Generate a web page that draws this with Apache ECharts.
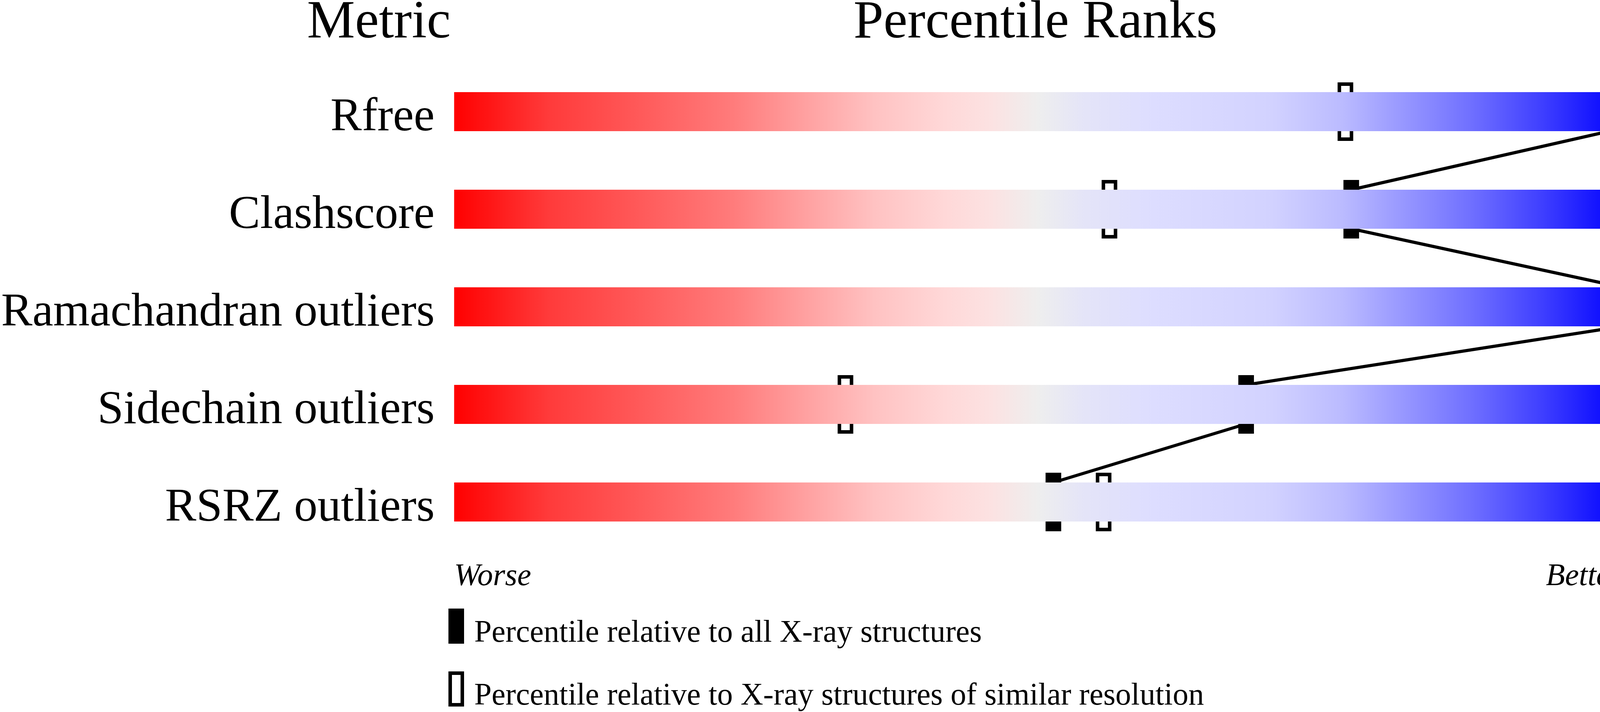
<!DOCTYPE html>
<html>
<head>
<meta charset="utf-8">
<script src="https://cdn.jsdelivr.net/npm/echarts@6/dist/echarts.min.js"></script>
<style>
html,body{margin:0;padding:0;background:#fff;}
#chart{width:4485px;height:1824px;}
</style>
</head>
<body>
<div id="chart"></div>
<script>
// ---- data ----
const metrics = ['Rfree', 'Clashscore', 'Ramachandran outliers', 'Sidechain outliers', 'RSRZ outliers'];
const valueLabels = ['0.154', '3', '0', '1.0%', '3.1%'];
const pctAll = [98.9, 76.8, 100, 67.8, 51.3];       // percentile vs all X-ray structures
const pctSimilar = [76.3, 56.1, 100, 33.5, 55.6];   // percentile vs similar resolution
const scaleMin = 0, scaleMax = 100;
const endLabels = ['Worse', 'Better'];
const headers = ['Metric', 'Percentile Ranks', 'Value'];
const legendNames = ['Percentile relative to all X-ray structures',
                     'Percentile relative to X-ray structures of similar resolution'];

const FONT = 'Liberation Serif';
const chart = echarts.init(document.getElementById('chart'));

const gradient = new echarts.graphic.LinearGradient(0, 0, 1, 0, [
  {offset: 0.00, color: '#FF0000'},
  {offset: 0.08, color: '#FF3A3A'},
  {offset: 0.16, color: '#FF5A5A'},
  {offset: 0.24, color: '#FF7C7C'},
  {offset: 0.30, color: '#FFA0A0'},
  {offset: 0.36, color: '#FFC2C2'},
  {offset: 0.42, color: '#FFD8D8'},
  {offset: 0.46, color: '#FCE2E2'},
  {offset: 0.50, color: '#EEEEEE'},
  {offset: 0.54, color: '#E4E4F8'},
  {offset: 0.60, color: '#DDDDFF'},
  {offset: 0.70, color: '#D2D2FF'},
  {offset: 0.76, color: '#BBBBFF'},
  {offset: 0.81, color: '#9999FF'},
  {offset: 0.87, color: '#7070FF'},
  {offset: 0.93, color: '#4040FF'},
  {offset: 1.00, color: '#0000FF'}
]);

const openIcon = 'path://M0,0H40V90H0Z M9,9V81H31V9Z';

const option = {
  animation: false,
  backgroundColor: '#ffffff',
  title: [
    {text: headers[0], left: 786, top: 10, padding: 0,
     textStyle: {fontFamily: FONT, fontSize: 138, fontWeight: 'normal', color: '#000', lineHeight: 100}},
    {text: headers[1], left: 2185, top: 10, padding: 0,
     textStyle: {fontFamily: FONT, fontSize: 138, fontWeight: 'normal', color: '#000', lineHeight: 100}},
    {text: headers[2], right: 5, top: 10, padding: 0,
     textStyle: {fontFamily: FONT, fontSize: 138, fontWeight: 'normal', color: '#000', lineHeight: 100}}
  ],
  legend: {
    orient: 'vertical',
    left: 1148, top: 1559, height: 400,
    padding: 0,
    itemWidth: 40, itemHeight: 90, itemGap: 57,
    selectedMode: false,
    data: [{name: legendNames[0], icon: 'rect'}, {name: legendNames[1], icon: openIcon}],
    formatter: name => '{s|\u200b}{t|' + name + '}',
    textStyle: {
      fontFamily: FONT, fontSize: 80, color: '#000',
      rich: {
        s: {fontFamily: FONT, fontSize: 80, lineHeight: 118, width: 21},
        t: {fontFamily: FONT, fontSize: 80, color: '#000', lineHeight: 80, verticalAlign: 'bottom'}
      }
    }
  },
  grid: {left: 1153, right: 332, top: 161, bottom: 413, containLabel: false},
  xAxis: {
    type: 'value', min: scaleMin, max: scaleMax, interval: scaleMax - scaleMin,
    axisLine: {show: false}, axisTick: {show: false}, splitLine: {show: false},
    axisLabel: {
      show: true, margin: 27,
      formatter: v => v === scaleMin ? endLabels[0] : (v === scaleMax ? endLabels[1] : ''),
      alignMinLabel: 'left', alignMaxLabel: 'right',
      fontFamily: FONT, fontStyle: 'italic', fontSize: 80, color: '#000', lineHeight: 80
    }
  },
  yAxis: [
    {
      type: 'category', data: metrics, inverse: true,
      axisLine: {show: false}, axisTick: {show: false}, splitLine: {show: false},
      axisLabel: {margin: 50, fontFamily: FONT, fontSize: 120, color: '#000',
                  verticalAlign: 'top', lineHeight: 32}
    },
    {
      type: 'category', data: valueLabels, inverse: true, position: 'right',
      axisLine: {show: false}, axisTick: {show: false}, splitLine: {show: false},
      axisLabel: {margin: 52, fontFamily: FONT, fontSize: 120, color: '#000',
                  verticalAlign: 'top', lineHeight: 32}
    }
  ],
  series: [
    {
      name: 'scale', type: 'bar', yAxisIndex: 0, barWidth: '40%', silent: true,
      data: metrics.map(() => scaleMax),
      itemStyle: {color: gradient}
    },
    {
      name: 'link', type: 'custom', yAxisIndex: 0, silent: true,
      data: pctAll.map((v, i) => [v, i]),
      encode: {x: 0, y: 1},
      renderItem: function (params, api) {
        const i = params.dataIndex;
        if (i >= pctAll.length - 1) return null;
        const half = api.size([0, 1])[1] * 0.2;
        const p1 = api.coord([pctAll[i], i]);
        const p2 = api.coord([pctAll[i + 1], i + 1]);
        return {
          type: 'line',
          shape: {x1: p1[0], y1: p1[1] + half, x2: p2[0], y2: p2[1] - half},
          style: {stroke: '#000', lineWidth: 8}
        };
      }
    },
    {
      name: legendNames[1], type: 'custom', yAxisIndex: 0,
      itemStyle: {color: '#000'},
      data: pctSimilar.map((v, i) => [v, i]),
      encode: {x: 0, y: 1},
      renderItem: function (params, api) {
        const p = api.coord([api.value(0), api.value(1)]);
        const h = api.size([0, 1])[1] * 0.6;
        return {
          type: 'rect',
          shape: {x: p[0] - 15.5, y: p[1] - h / 2 + 4.5, width: 31, height: h - 9},
          style: {fill: '#fff', stroke: '#000', lineWidth: 9}
        };
      }
    },
    {
      name: legendNames[0], type: 'custom', yAxisIndex: 0,
      itemStyle: {color: '#000'},
      data: pctAll.map((v, i) => [v, i]),
      encode: {x: 0, y: 1},
      renderItem: function (params, api) {
        const p = api.coord([api.value(0), api.value(1)]);
        const h = api.size([0, 1])[1] * 0.6;
        return {
          type: 'rect',
          shape: {x: p[0] - 20, y: p[1] - h / 2, width: 40, height: h},
          style: {fill: '#000'}
        };
      }
    }
  ]
};
chart.setOption(option);
</script>
</body>
</html>
